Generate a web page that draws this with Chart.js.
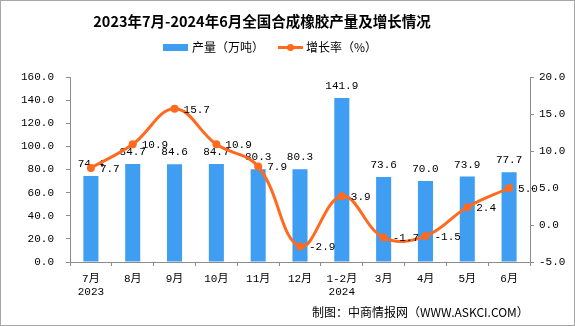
<!DOCTYPE html>
<html>
<head>
<meta charset="utf-8">
<script src="https://cdn.jsdelivr.net/npm/chart.js@4.4.1/dist/chart.umd.min.js"></script>
<style>
  html,body{margin:0;padding:0;background:#fff;}
  #wrap{width:575px;height:326px;}
</style>
</head>
<body>
<div id="wrap"><canvas id="c" width="575" height="326"></canvas></div>
<script>
// data
const categories=[['7月','2023'],'8月','9月','10月','11月','12月',['1-2月','2024'],'3月','4月','5月','6月'];
const output=[74.4,84.7,84.6,84.7,80.3,80.3,141.9,73.6,70.0,73.9,77.7];
const growth=[7.7,10.9,15.7,10.9,7.9,-2.9,3.9,-1.7,-1.5,2.4,5.0];
const leftTicks={min:0,max:160,step:20};
const rightTicks={min:-5,max:20,step:5};

const titleText='2023年7月-2024年6月全国合成橡胶产量及增长情况';
const sourceText='制图：中商情报网（WWW.ASKCI.COM）';
const BLUE='#3f9df2', ORANGE='#ff6a1f', AXIS='#8c8c8c';
const NUMFONT="11px 'Liberation Mono','Noto Sans CJK SC'";

// frame, title, legend, source line
const decor={
  id:'decor',
  beforeDraw(chart){
    const c=chart.ctx;
    c.save();
    c.fillStyle='#fff'; c.fillRect(0,0,chart.width,chart.height);
    c.strokeStyle='#a6a6a6'; c.lineWidth=1;
    c.strokeRect(0.5,0.5,chart.width-1,chart.height-1);
    c.restore();
  },
  afterDraw(chart){
    const c=chart.ctx;
    c.save();
    c.fillStyle='#000';
    c.font="bold 14.5px 'Noto Sans CJK SC'";
    c.textAlign='center'; c.textBaseline='middle';
    c.fillText(titleText,262,21);
    // legend
    c.font="12px 'Noto Sans CJK SC'";
    c.textAlign='left';
    c.fillStyle=BLUE; c.fillRect(163,44,25,7);
    c.fillStyle='#000'; c.fillText('产量（万吨）',192,47.5);
    c.strokeStyle=ORANGE; c.lineWidth=3;
    c.beginPath(); c.moveTo(278,47.5); c.lineTo(303,47.5); c.stroke();
    c.fillStyle=ORANGE; c.beginPath(); c.arc(290.5,47.5,3.5,0,Math.PI*2); c.fill();
    c.fillStyle='#000'; c.fillText('增长率（%）',306,47.5);
    // source
    c.fillText(sourceText,312,312);
    c.restore();
  }
};

// value labels
const valueLabels={
  id:'valueLabels',
  afterDatasetDraw(chart,args){
    const c=chart.ctx;
    const ds=chart.data.datasets[args.index];
    c.save();
    c.font=NUMFONT; c.fillStyle='#000';
    if(ds.type==='bar'){
      c.textAlign='center'; c.textBaseline='alphabetic';
      args.meta.data.forEach((el,i)=>c.fillText(ds.data[i].toFixed(1),el.x,el.y-9));
    }else{
      c.textAlign='left'; c.textBaseline='middle';
      args.meta.data.forEach((el,i)=>c.fillText(ds.data[i].toFixed(1),el.x+9,el.y+1));
    }
    c.restore();
  }
};

const tickFont={family:"'Liberation Mono','Noto Sans CJK SC'",size:11};

new Chart(document.getElementById('c'),{
  data:{
    labels:categories,
    datasets:[
      {type:'line',label:'增长率（%）',data:growth,yAxisID:'y1',order:0,
       borderColor:ORANGE,backgroundColor:ORANGE,borderWidth:3,tension:0.4,
       pointRadius:4,pointBackgroundColor:ORANGE,pointBorderWidth:0},
      {type:'bar',label:'产量（万吨）',data:output,yAxisID:'y',order:1,
       backgroundColor:BLUE,categoryPercentage:1,barPercentage:0.36}
    ]
  },
  options:{
    responsive:false,
    animation:false,
    devicePixelRatio:1,
    layout:{padding:{top:77,left:0,right:0,bottom:0}},
    plugins:{legend:{display:false},title:{display:false},tooltip:{enabled:false}},
    scales:{
      x:{
        offset:true,
        grid:{offset:true,drawOnChartArea:false,drawTicks:true,tickLength:4,color:AXIS},
        border:{display:true,color:AXIS},
        ticks:{font:tickFont,color:'#000',maxRotation:0,autoSkip:false,padding:6},
        afterFit(s){s.height=64;}
      },
      y:{
        position:'left',min:leftTicks.min,max:leftTicks.max,
        grid:{drawOnChartArea:false,drawTicks:true,tickLength:4,color:AXIS},
        border:{display:true,color:AXIS},
        ticks:{stepSize:leftTicks.step,font:tickFont,color:'#000',padding:12,callback:v=>v.toFixed(1)},
        afterFit(s){s.width=70;}
      },
      y1:{
        position:'right',min:rightTicks.min,max:rightTicks.max,
        grid:{drawOnChartArea:false,drawTicks:true,tickLength:4,color:AXIS},
        border:{display:true,color:AXIS},
        ticks:{stepSize:rightTicks.step,font:tickFont,color:'#000',padding:5,callback:v=>v.toFixed(1)},
        afterFit(s){s.width=45;}
      }
    }
  },
  plugins:[decor,valueLabels]
});
</script>
</body>
</html>
